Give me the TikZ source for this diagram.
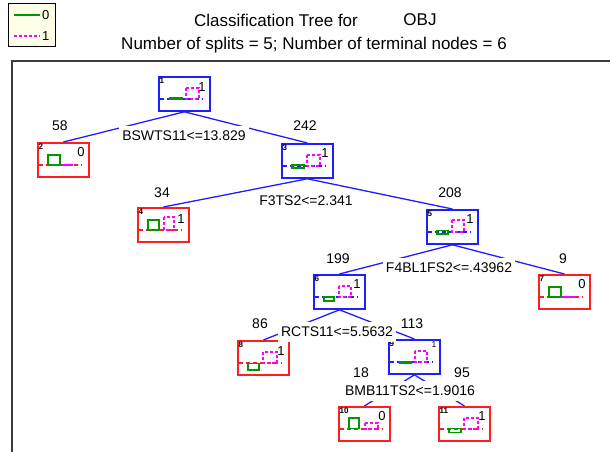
\documentclass[tikz,border=0pt]{standalone}
\usepackage{fontspec}
\setmainfont{Liberation Sans}
\definecolor{nblue}{RGB}{30,30,255}
\definecolor{nred}{RGB}{255,30,30}
\definecolor{ngreen}{RGB}{0,150,0}
\definecolor{nmag}{RGB}{255,0,255}
\definecolor{frm}{RGB}{60,60,60}
\definecolor{legbg}{RGB}{255,255,232}
\tikzset{
 tbox/.style={draw=#1, line width=1.8pt, minimum width=51pt, minimum height=34pt, inner sep=0pt, anchor=north west, fill=white},
 edge/.style={draw=nblue, line width=1.3pt},
 split/.style={fill=white, font=\fontsize{14}{15}\selectfont, inner xsep=3pt, inner ysep=5pt},
 cnt/.style={font=\fontsize{14}{15}\selectfont, inner sep=0pt},
 idl/.style={font=\fontsize{8}{8}\selectfont\bfseries, inner sep=0pt, anchor=west},
 cls/.style={font=\fontsize{13}{13}\selectfont, inner sep=0pt},
 basel/.style={draw=#1, line width=1.2pt, dash pattern=on 4pt off 3pt},
 gbar/.style={draw=ngreen, line width=1.2pt},
 gfill/.style={draw=ngreen, fill=ngreen, line width=0.8pt},
 mbar/.style={draw=nmag, line width=1.2pt, dash pattern=on 3pt off 2pt},
 mflat/.style={draw=nmag, line width=1.4pt},
 ttl/.style={font=\fontsize{17}{18}\selectfont, inner sep=0pt},
 legt/.style={font=\fontsize{13}{13}\selectfont, inner sep=0pt, anchor=west},
}
\newcommand\ins[4][10]{%
 \node[idl] at (1.5,5) {#2};
 \node[cls] at (44,#1) {#3};
 \draw[basel=#4] (1.5,23) -- (45,23);}
\begin{document}
\begin{tikzpicture}[x=1pt,y=-1pt]
\useasboundingbox[fill=white] (0,0) rectangle (610,452);
% legend
\node[draw=black, line width=1.3pt, fill=legbg, minimum width=47pt, minimum height=43pt, inner sep=0pt, anchor=north west] (leg) at (8,3) {};
\coordinate (lg0a) at (14,15); \coordinate (lg0b) at (40,15);
\coordinate (lg1a) at (14,36); \coordinate (lg1b) at (40,36);
\draw[draw=ngreen, line width=1.3pt] (lg0a) -- (lg0b);
\draw[draw=nmag, line width=1.3pt, dash pattern=on 3pt off 2pt] (lg1a) -- (lg1b);
\node[legt] (l0) at (42,15) {0};
\node[legt] (l1) at (42,36) {1};
% titles
\node[ttl] (t1) at (276,20) {Classification Tree for};
\node[ttl] (t2) at (420,20) {OBJ};
\node[ttl] (t3) at (314,45) {Number of splits = 5; Number of terminal nodes = 6};
% frame
\coordinate (f1) at (12,452); \coordinate (f2) at (12,61); \coordinate (f3) at (610,61);
\draw[draw=frm, line width=1.3pt] (f1) -- (f2) -- (f3);
% tree nodes
\node[tbox=nblue] (n1) at (158,76) {};
\node[tbox=nred] (n2) at (37,142) {};
\node[tbox=nblue] (n3) at (281,143) {};
\node[tbox=nred] (n4) at (137,207) {};
\node[tbox=nblue] (n5) at (426,209) {};
\node[tbox=nblue] (n6) at (313,274) {};
\node[tbox=nred] (n7) at (538,274) {};
\node[tbox=nred] (n8) at (237,340) {};
\node[tbox=nblue] (n9) at (388,339) {};
\node[tbox=nred] (n10) at (338,406) {};
\node[tbox=nred] (n11) at (438,406) {};
% node contents
\begin{scope}[shift={(n1.north west)}]
 \ins[11]{1}{1}{nblue}
 \draw[mbar] (28,12) rectangle (41,23);
 \draw[gfill] (11,21.5) rectangle (24,23.5);
\end{scope}
\begin{scope}[shift={(n2.north west)}]
 \ins{2}{0}{nred}
 \draw[mflat] (23,23) -- (36,23);
 \draw[gbar] (11,13) rectangle (23,23);
\end{scope}
\begin{scope}[shift={(n3.north west)}]
 \ins{3}{1}{nblue}
 \draw[mbar] (26,12) rectangle (39,23);
 \draw[gbar] (11,22) rectangle (23,25);
\end{scope}
\begin{scope}[shift={(n4.north west)}]
 \ins[12]{4}{1}{nred}
 \draw[mbar] (27,10) rectangle (37,23);
 \draw[gbar] (11,13) rectangle (22,23);
\end{scope}
\begin{scope}[shift={(n5.north west)}]
 \ins{5}{1}{nblue}
 \draw[mbar] (26,11) rectangle (38,23);
 \draw[gbar] (11,21.5) rectangle (22,25);
\end{scope}
\begin{scope}[shift={(n6.north west)}]
 \ins{6}{1}{nblue}
 \draw[mbar] (26,12) rectangle (38,23);
 \draw[gbar] (11,23) rectangle (21,27);
\end{scope}
\begin{scope}[shift={(n7.north west)}]
 \ins{7}{0}{nred}
 \draw[mflat] (23,23) -- (37,23);
 \draw[gbar] (11,13) rectangle (23,23);
\end{scope}
\begin{scope}[shift={(n8.north west)}]
 \ins[11]{8}{1}{nred}
 \draw[mbar] (26,12) rectangle (40,23);
 \draw[gbar] (11,23.5) rectangle (22,30);
\end{scope}
\begin{scope}[shift={(n9.north west)}]
 \node[idl] at (1.5,5) {9};
 \node[font=\fontsize{8.5}{9}\selectfont, inner sep=0pt] at (46,6) {1};
 \draw[basel=nblue] (1.5,23) -- (45,23);
 \draw[mbar] (27,12) rectangle (39,23);
 \draw[gfill] (11,22) rectangle (23,24.5);
\end{scope}
\begin{scope}[shift={(n10.north west)}]
 \ins{10}{0}{nred}
 \draw[mbar] (27,17) rectangle (40,23);
 \draw[gbar] (11,12) rectangle (21,22.5);
\end{scope}
\begin{scope}[shift={(n11.north west)}]
 \ins{11}{1}{nred}
 \draw[mbar] (26,12) rectangle (40,23);
 \draw[gbar] (11,22.5) rectangle (23,26.5);
\end{scope}
% edges
\draw[edge] (n1.south) -- (n2.north);
\draw[edge] (n1.south) -- (n3.north);
\draw[edge] (n3.south) -- (n4.north);
\draw[edge] (n3.south) -- (n5.north);
\draw[edge] (n5.south) -- (n6.north);
\draw[edge] (n5.south) -- (n7.north);
\draw[edge] (n6.south) -- (n8.north);
\draw[edge] (n6.south) -- (n9.north);
\draw[edge] (n9.south) -- (n10.north);
\draw[edge] (n9.south) -- (n11.north);
% split labels
\node[split] (s1) at (184,136) {BSWTS11<=13.829};
\node[split] (s3) at (306,201) {F3TS2<=2.341};
\node[split] (s5) at (449,268) {F4BL1FS2<=.43962};
\node[split] (s6) at (337,332) {RCTS11<=5.5632};
\node[split] (s9) at (410,391) {BMB11TS2<=1.9016};
% counts
\node[cnt] (c2) at (60,126) {58};
\node[cnt] (c3) at (305,126) {242};
\node[cnt] (c4) at (162,193) {34};
\node[cnt] (c5) at (450,193) {208};
\node[cnt] (c6) at (338,259) {199};
\node[cnt] (c7) at (563,259) {9};
\node[cnt] (c8) at (260,324) {86};
\node[cnt] (c9) at (412,324) {113};
\node[cnt] (c10) at (361,373) {18};
\node[cnt] (c11) at (462,373) {95};
\end{tikzpicture}
\end{document}
